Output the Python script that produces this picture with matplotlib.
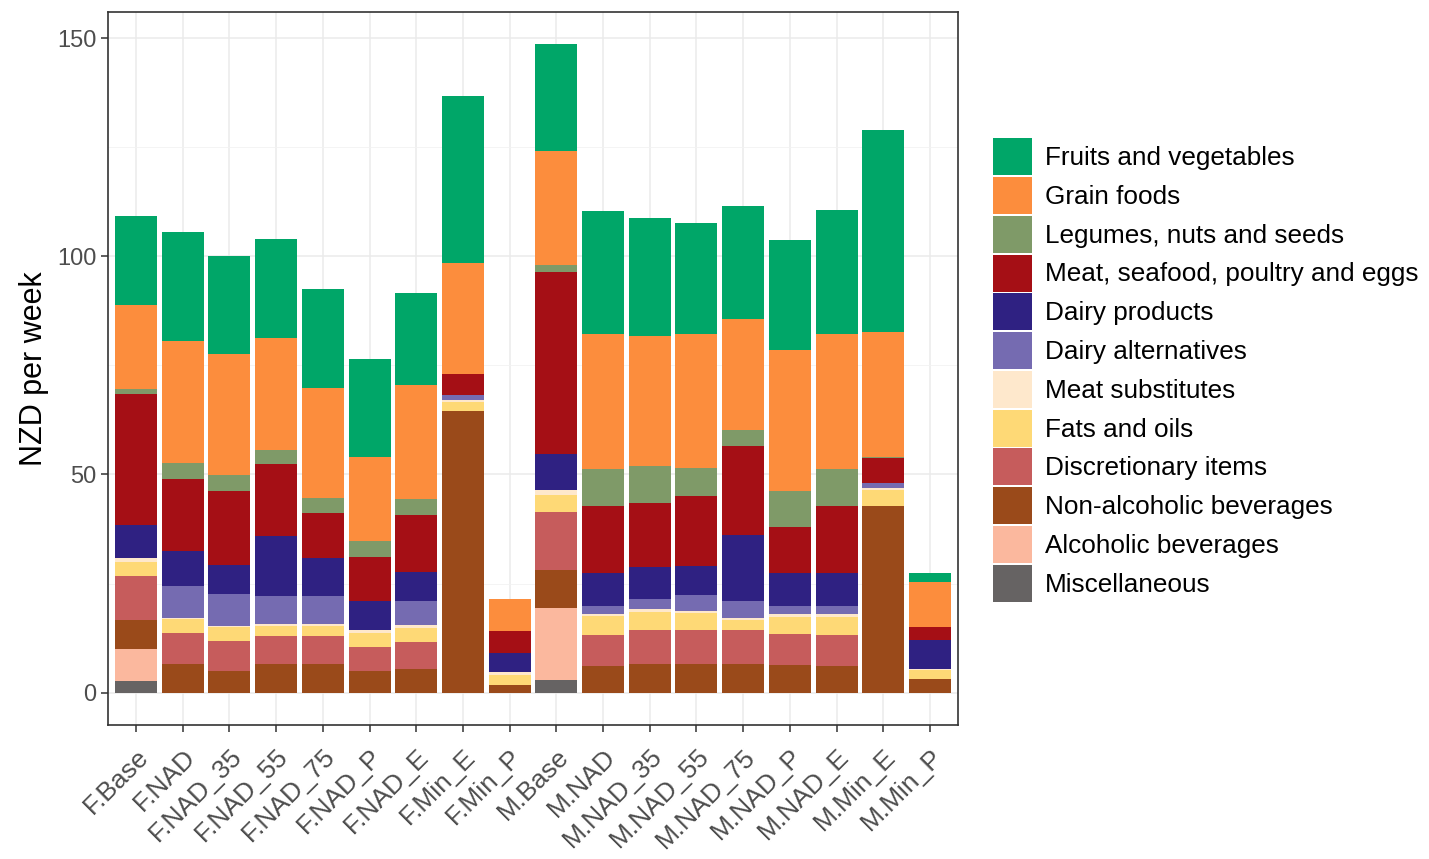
import numpy as np
import matplotlib
matplotlib.use("Agg")
import matplotlib.pyplot as plt
from matplotlib.patches import Patch

plt.rcParams['font.family'] = ['Liberation Sans', 'DejaVu Sans']

scenarios = ["F.Base", "F.NAD", "F.NAD_35", "F.NAD_55", "F.NAD_75", "F.NAD_P",
             "F.NAD_E", "F.Min_E", "F.Min_P", "M.Base", "M.NAD", "M.NAD_35",
             "M.NAD_55", "M.NAD_75", "M.NAD_P", "M.NAD_E", "M.Min_E", "M.Min_P"]

# food groups, from bottom of the stack to the top
groups = ["Miscellaneous", "Alcoholic beverages", "Non-alcoholic beverages",
          "Discretionary items", "Fats and oils", "Meat substitutes",
          "Dairy alternatives", "Dairy products", "Meat, seafood, poultry and eggs",
          "Legumes, nuts and seeds", "Grain foods", "Fruits and vegetables"]

colors = ["#666363", "#FBB89E", "#9A4A1A", "#C65C5C", "#FED976", "#FEE8CC",
          "#756BB1", "#2F2182", "#A50F15", "#7F9A68", "#FC8D3D", "#00A668"]

# NZD per week per scenario
misc = [2.7, 0, 0, 0, 0, 0, 0, 0, 0, 2.8, 0, 0, 0, 0, 0, 0, 0, 0]
alcoholic = [7.2, 0, 0, 0, 0, 0, 0, 0, 0, 16.7, 0, 0, 0, 0, 0, 0, 0, 0]
non_alcoholic = [6.8, 6.5, 4.9, 6.5, 6.5, 5.0, 5.4, 64.5, 1.8,
                 8.5, 6.1, 6.5, 6.5, 6.5, 6.3, 6.0, 42.7, 3.0]
discretionary = [10.0, 7.2, 6.9, 6.4, 6.4, 5.4, 6.2, 0, 0,
                 13.3, 7.2, 7.9, 7.9, 7.9, 7.1, 7.3, 0, 0]
fats = [3.3, 3.2, 3.2, 2.3, 2.3, 3.3, 3.2, 2.0, 2.2,
        4.1, 4.2, 4.1, 3.8, 2.2, 3.9, 4.0, 3.7, 2.1]
meat_subs = [0.9, 0.3, 0.3, 0.5, 0.5, 0.6, 0.6, 0.5, 0.7,
             1.0, 0.5, 0.6, 0.6, 0.6, 0.6, 0.6, 0.5, 0.4]
dairy_alt = [0, 7.3, 7.3, 6.5, 6.5, 0, 5.6, 1.2, 0,
             0, 1.9, 2.3, 3.5, 3.7, 1.9, 1.9, 1.2, 0]
dairy = [7.5, 7.9, 6.6, 13.7, 8.6, 6.7, 6.6, 0, 4.4,
         8.2, 7.5, 7.5, 6.7, 15.3, 7.5, 7.7, 0, 6.6]
meat = [30.0, 16.5, 17.0, 16.4, 10.4, 10.1, 13.0, 4.8, 5.0,
        41.8, 15.4, 14.6, 16.1, 20.4, 10.7, 15.2, 5.7, 3.0]
legumes = [1.1, 3.8, 3.7, 3.4, 3.4, 3.6, 3.7, 0.1, 0,
           1.5, 8.5, 8.4, 6.4, 3.6, 8.1, 8.6, 0.2, 0]
grain = [19.4, 27.8, 27.8, 25.6, 25.3, 19.3, 26.3, 25.3, 7.3,
         26.3, 30.8, 29.8, 30.6, 25.4, 32.5, 31.0, 28.6, 10.2]
fruit_veg = [20.4, 25.0, 22.4, 22.6, 22.5, 22.4, 21.1, 38.3, 0,
             24.4, 28.3, 27.1, 25.6, 25.9, 25.2, 28.3, 46.3, 2.1]

series = [misc, alcoholic, non_alcoholic, discretionary, fats, meat_subs,
          dairy_alt, dairy, meat, legumes, grain, fruit_veg]

fig = plt.figure(figsize=(14.29, 8.59), dpi=100)
ax = fig.add_axes([0.0756, 0.156, 0.5948, 0.830])

x = np.arange(1, len(scenarios) + 1)
bottom = np.zeros(len(scenarios))
for vals, col in zip(series, colors):
    vals = np.array(vals, dtype=float)
    ax.bar(x, vals, width=0.9, bottom=bottom, color=col, linewidth=0, zorder=3)
    bottom += vals

ax.set_xlim(0.4, len(scenarios) + 0.6)
ax.set_ylim(-7.43, 156.0)
ax.set_yticks([0, 50, 100, 150])
ax.set_yticks([25, 75, 125], minor=True)
ax.set_xticks(x)
ax.set_xticklabels(scenarios, rotation=45, ha='right', rotation_mode='anchor')

ax.grid(which='major', color='#EBEBEB', linewidth=1.1, zorder=0)
ax.grid(which='minor', axis='y', color='#F2F2F2', linewidth=0.6, zorder=0)
ax.set_axisbelow(True)

for s in ax.spines.values():
    s.set_color('#333333')
    s.set_linewidth(1.2)
ax.tick_params(which='major', length=5, width=1.1, color='#333333',
               labelsize=17, labelcolor='#4D4D4D')
ax.tick_params(which='minor', length=0)
ax.tick_params(axis='x', pad=9, labelsize=19)

ax.set_ylabel("NZD per week", fontsize=22, color='black', labelpad=6)

handles = [Patch(facecolor=c, edgecolor='none') for c in colors[::-1]]
fig.legend(handles, groups[::-1], loc='center left',
           bbox_to_anchor=(993 / 1429, 1 - 370 / 859), frameon=False,
           fontsize=18.8, handlelength=1.49, handleheight=1.8,
           handletextpad=0.5, labelspacing=0.07, borderpad=0, borderaxespad=0)

fig.savefig("out.png", dpi=100)
